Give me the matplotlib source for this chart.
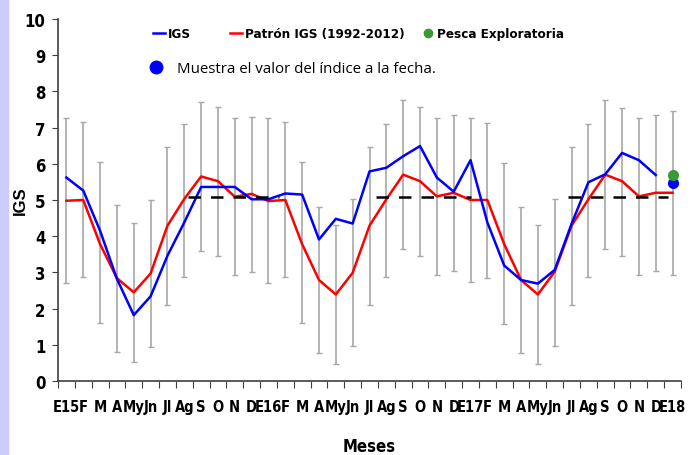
import numpy as np
import matplotlib
matplotlib.use("Agg")
import matplotlib.pyplot as plt
from matplotlib.lines import Line2D
from matplotlib.patches import Rectangle

# ------------------ DATA ------------------
meses = ["E15", "F", "M", "A", "My", "Jn", "Jl", "Ag", "S", "O", "N", "D",
         "E16", "F", "M", "A", "My", "Jn", "Jl", "Ag", "S", "O", "N", "D",
         "E17", "F", "M", "A", "My", "Jn", "Jl", "Ag", "S", "O", "N", "D",
         "E18"]

igs = [5.62, 5.26, 4.15, 2.82, 1.82, 2.34, 3.46, 4.38, 5.36, 5.36, 5.36, 5.02,
       5.02, 5.18, 5.15, 3.91, 4.48, 4.35, 5.79, 5.89, 6.21, 6.49, 5.62, 5.23,
       6.10, 4.38, 3.19, 2.79, 2.69, 3.07, 4.34, 5.49, 5.71, 6.30, 6.10, 5.69]

patron = [4.98, 5.00, 3.78, 2.84, 2.45, 2.97, 4.29, 5.03, 5.65, 5.52, 5.09, 5.17,
          4.97, 5.00, 3.78, 2.79, 2.39, 2.99, 4.29, 5.02, 5.70, 5.52, 5.10, 5.20,
          5.00, 5.00, 3.78, 2.79, 2.39, 3.02, 4.29, 5.02, 5.70, 5.52, 5.10, 5.20,
          5.20]

sup = [7.26, 7.16, 6.05, 4.87, 4.37, 5.00, 6.47, 7.09, 7.72, 7.56, 7.26, 7.30,
       7.26, 7.16, 6.06, 4.82, 4.32, 5.03, 6.47, 7.09, 7.76, 7.56, 7.26, 7.36,
       7.27, 7.14, 6.01, 4.82, 4.32, 5.03, 6.47, 7.10, 7.76, 7.55, 7.27, 7.36,
       7.47]
inf = [2.71, 2.86, 1.60, 0.80, 0.52, 0.94, 2.10, 2.88, 3.59, 3.46, 2.93, 3.00,
       2.70, 2.86, 1.60, 0.76, 0.47, 0.96, 2.10, 2.88, 3.64, 3.46, 2.93, 3.05,
       2.73, 2.85, 1.57, 0.76, 0.47, 0.96, 2.10, 2.88, 3.64, 3.45, 2.93, 3.05,
       2.92]

# dashed reference level per season (start month, end month)
temporadas = [(7.2, 12.6), (18.4, 24.0), (29.8, 35.7)]
nivel_ref = 5.07

# last sample point and exploratory fishing
igs_actual = 5.47
pesca_expl = 5.70

# ------------------ PLOT ------------------
# condensed bold look, like the Arial Narrow of the original
COND = dict(family=["DejaVu Sans"], stretch="condensed", weight="bold")

fig = plt.figure(figsize=(7.0, 4.56), dpi=100)
fig.patches.append(Rectangle((0, 0), 8 / 700, 1, transform=fig.transFigure,
                             color="#ccccff", zorder=0))
ax = fig.add_axes([58 / 700, 1 - 382 / 456, 623 / 700, 362 / 456])

x = np.arange(len(meses))
pat = np.array(patron)
yerr = [pat - np.array(inf), np.array(sup) - pat]
ax.errorbar(x, pat, yerr=yerr, fmt="none", ecolor="#a8a8a8", elinewidth=1.2,
            capsize=2, capthick=1, zorder=1)

ax.plot(x[:len(igs)], igs, color="#0000ff", lw=1.8, zorder=3)
ax.plot(x, patron, color="#ff0000", lw=1.8, zorder=2)

for a, b in temporadas:
    ax.plot([a, b], [nivel_ref, nivel_ref], color="black", lw=1.8,
            dashes=(5, 4), zorder=4)

ax.plot(x[-1], igs_actual, "o", color="#0000ff", ms=7, zorder=5)
ax.plot(x[-1], pesca_expl, "o", color="#3a9a3a", ms=7, zorder=6)

ax.set_xlim(-0.5, len(meses) - 0.5)
ax.set_ylim(0, 10)
ax.set_yticks(range(0, 11))
ax.set_xticks(np.arange(-0.5, len(meses), 1.0))
ax.set_xticklabels([])
ax.set_xticks(x, minor=True)
ax.set_xticklabels(meses, minor=True, fontsize=10.5, **COND)
ax.tick_params(axis="x", which="minor", length=0, pad=13)
ax.tick_params(axis="x", which="major", length=5, direction="out",
               color="#404040")
ax.tick_params(axis="y", length=4, direction="out", color="#404040", pad=5)
for lab in ax.get_yticklabels():
    lab.update(COND)
    lab.set_fontsize(12)

for s in ("top", "right"):
    ax.spines[s].set_visible(False)
for s in ("left", "bottom"):
    ax.spines[s].set_color("#404040")
    ax.spines[s].set_linewidth(1.2)

ax.set_ylabel("IGS", fontweight="bold", fontsize=12, family="Liberation Sans")
ax.yaxis.set_label_coords(-0.048, 0.5)
ax.set_xlabel("Meses", fontsize=12, **COND)
ax.xaxis.set_label_coords(0.5, -0.155)

# legend entries placed one by one, like the original
entradas = [
    (Line2D([], [], color="#0000ff", lw=1.8), "IGS", 0.1525),
    (Line2D([], [], color="#ff0000", lw=1.8), "Patrón IGS (1992-2012)", 0.276),
    (Line2D([], [], ls="none", marker="o", color="#3a9a3a", ms=6),
     "Pesca Exploratoria", 0.584),
]
for h, txt, x0 in entradas:
    lg = ax.legend([h], [txt], frameon=False, loc="upper left",
                   bbox_to_anchor=(x0, 0.977), borderpad=0, borderaxespad=0,
                   handlelength=0.9, handletextpad=0.25,
                   prop=dict(size=9.6, **COND))
    ax.add_artist(lg)

ax.legend([Line2D([], [], ls="none", marker="o", color="#0000ff", ms=9)],
          ["Muestra el valor del índice a la fecha."], frameon=False,
          loc="upper left", bbox_to_anchor=(0.146, 0.884), borderpad=0,
          borderaxespad=0, handlelength=0.9, handletextpad=1.0,
          prop={"family": "Open Sans", "size": 10.8})

fig.savefig("out.png", dpi=100)
